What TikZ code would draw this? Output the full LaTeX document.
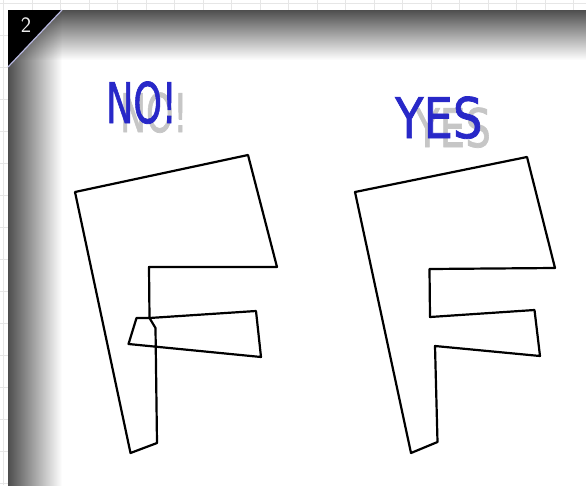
\documentclass[tikz,border=0pt]{standalone}
\usepackage{fontspec}
\newfontfamily\signfont[FakeBold=1.4]{DejaVu Sans}
\usetikzlibrary{positioning}
\definecolor{signblue}{HTML}{2828C8}
\definecolor{ghostgray}{HTML}{C6C6C6}
\definecolor{gridgray}{HTML}{E6E6E6}
\definecolor{edgegray}{HTML}{4E4E4E}

\begin{document}
\begin{tikzpicture}[
    x=1pt,y=-1pt,
    outline/.style = {draw=black,line width=2.2pt,line join=round},
    word/.style    = {font=\signfont\fontsize{56}{56}\selectfont,text=signblue,
                      inner sep=0pt,anchor=base west},
    ghost/.style   = {word,text=ghostgray,yscale=0.95},
    tab/.style     = {font=\sffamily\fontsize{22}{22}\selectfont,text=white!85!gray,inner sep=0pt},
    grid/.style    = {draw=gridgray,line width=0.8pt},
  ]
  \useasboundingbox (0,0) rectangle (586,485);
  \fill[white] (0,0) rectangle (586,485);

  \foreach \k in {0,...,20} \draw[grid] (3.8+28.5*\k,0) -- (3.8+28.5*\k,485);
  \foreach \k in {0,...,15} \draw[grid] (0,3+32*\k) -- (586,3+32*\k);

  \fill[white] (8,10) rectangle (586,485);
  \shade[top color=edgegray,bottom color=white] (8,10) rectangle (586,60);
  \begin{scope}[blend mode=multiply]
    \shade[left color=edgegray,right color=white] (8,10) rectangle (62,485);
  \end{scope}

  \fill[black] (8,10) -- (62,10) -- (8,67) -- cycle;
  \draw[gray!60!blue!40,line width=1.2pt] (62,10) -- (8,67);
  \node[tab] (tabnum) at (26,25) {2};

  \node[ghost,xscale=0.62] (noghost)  at (120,132) {NO!};
  \node[word,xscale=0.65]  (no)       at (106,123) {NO!};
  \node[ghost,xscale=0.72] (yesghost) at (415,147) {YES};
  \node[word,xscale=0.83]  (yes)      at (395,138) {YES};

  \draw[outline] (75,192) -- (248,155) -- (277,267) -- (149,267) -- (149.5,318)
     -- (256,311) -- (261,357) -- (128.5,344) -- (136.5,318) -- (149.5,318)
     -- (155.5,328) -- (157,443) -- (130.5,453) -- cycle;
  \draw[outline] (355,192) -- (527,157) -- (555,268) -- (429.5,269) -- (430,317)
     -- (534.5,310) -- (540,356) -- (435,346) -- (437.5,442) -- (411,453) -- cycle;

\end{tikzpicture}
\end{document}
